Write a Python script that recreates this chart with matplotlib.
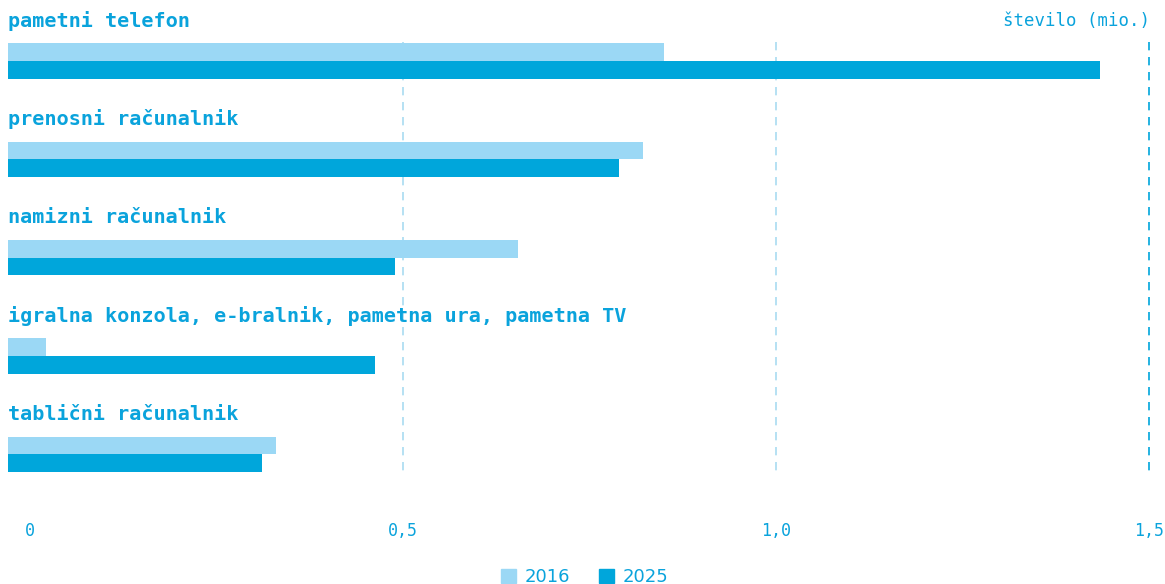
import numpy as np
import matplotlib.pyplot as plt
from matplotlib.patches import Patch

categories = [
    'pametni telefon',
    'prenosni računalnik',
    'namizni računalnik',
    'igralna konzola, e-bralnik, pametna ura, pametna TV',
    'tablični računalnik',
]
val_2016 = np.array([0.85, 0.822, 0.654, 0.021, 0.330])
val_2025 = np.array([1.434, 0.790, 0.489, 0.462, 0.311])

ticks = [0, 0.5, 1.0, 1.5]
tick_labels = ['0', '0,5', '1,0', '1,5']

TXT = '#0aa3dc'
C16 = '#9bd8f5'
C25 = '#00a6db'
GRID = '#a9dcf1'

XMIN, XMAX = -0.0295, 1.5147

fig = plt.figure(figsize=(11.65, 5.84), dpi=100)
ax = fig.add_axes([8 / 1165, 104 / 584, 1152 / 1165, 480 / 584])

y = np.arange(len(categories))
h = 0.18

# grid lines behind the bars
for t in ticks[1:]:
    ax.vlines(t, -0.19, 4.19, color=C25 if t == 1.5 else GRID, lw=1.2,
              linestyles=(0, (5, 4)), zorder=0)

ax.barh(y - h / 2, val_2016 - XMIN, left=XMIN, height=h, color=C16, zorder=2)
ax.barh(y + h / 2, val_2025 - XMIN, left=XMIN, height=h, color=C25, zorder=2)

for i, cat in enumerate(categories):
    ax.text(XMIN, i - 0.41, cat, ha='left', va='center', color=TXT,
            fontsize=14.5, fontweight='bold', family='DejaVu Sans Mono')

ax.set_xlim(XMIN, XMAX)
ax.set_ylim(4.26, -0.62)
ax.set_yticks([])
ax.set_xticks(ticks)
ax.set_xticklabels(tick_labels, family='DejaVu Sans Mono', fontsize=12, color=TXT)
ax.tick_params(axis='x', length=0, pad=30)
for s in ax.spines.values():
    s.set_visible(False)

fig.text(1150 / 1165, 1 - 21 / 584, 'število (mio.)', ha='right', va='center',
         color=TXT, fontsize=12.5, family='DejaVu Sans Mono')

handles = [Patch(color=C16, label='2016'), Patch(color=C25, label='2025')]
leg = fig.legend(handles=handles, loc='center', bbox_to_anchor=(585 / 1165, 1 - 577 / 584),
                 ncol=2, frameon=False, handlelength=0.8, handleheight=0.8,
                 handletextpad=0.5, columnspacing=1.6,
                 prop={'family': 'DejaVu Sans', 'size': 13})
for t in leg.get_texts():
    t.set_color(TXT)

fig.savefig('out.png', dpi=100)
